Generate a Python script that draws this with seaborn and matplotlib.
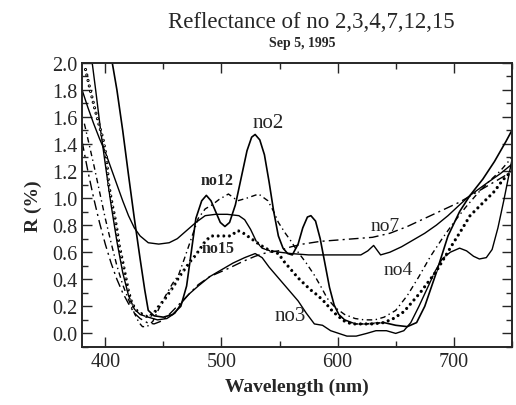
"""
Reflectance curves of samples no 2,3,4,7,12,15 (Sep 5, 1995).
Writes out.png
"""

import matplotlib
matplotlib.use("Agg")
import matplotlib.pyplot as plt
import seaborn as sns
from matplotlib.ticker import MultipleLocator

# values (wavelength nm, reflectance %)
no2_wl = [405, 410, 415, 420, 425, 430, 434, 437, 442, 450, 458, 465, 470, 474,
          478, 483, 487, 491, 495, 499, 503, 507, 512, 517, 522, 526, 529, 533,
          537, 541, 545, 549, 553, 557, 561, 566, 570, 574, 577, 581, 585, 589,
          593, 597, 601, 606, 615, 625, 640, 650, 660, 668, 675, 685, 695, 705,
          714, 725, 735, 745, 750]
no2_r = [2.05, 1.8, 1.5, 1.17, 0.85, 0.55, 0.32, 0.17, 0.13, 0.12, 0.14, 0.2,
         0.35, 0.6, 0.85, 0.98, 1.02, 0.98, 0.9, 0.82, 0.79, 0.82, 0.95, 1.15,
         1.35, 1.45, 1.47, 1.43, 1.32, 1.12, 0.9, 0.72, 0.63, 0.59, 0.58, 0.66,
         0.78, 0.86, 0.87, 0.83, 0.7, 0.52, 0.34, 0.21, 0.14, 0.1, 0.07, 0.07,
         0.08, 0.06, 0.05, 0.08, 0.2, 0.45, 0.72, 0.9, 1.02, 1.14, 1.27, 1.42, 1.5]

no3_wl = [388, 392, 396, 400, 405, 410, 415, 420, 425, 430, 437, 445, 453, 460,
          466, 472, 480, 490, 500, 510, 520, 529, 535, 541, 549, 557, 566, 573,
          580, 587, 594, 601, 608, 616, 625, 633, 642, 650, 657, 663, 670, 677,
          684, 690, 697, 705, 711, 717, 722, 728, 733, 738, 743, 750]
no3_r = [2.05, 1.78, 1.5, 1.25, 0.95, 0.68, 0.45, 0.28, 0.18, 0.14, 0.12, 0.1,
         0.11, 0.15, 0.23, 0.29, 0.35, 0.42, 0.47, 0.52, 0.56, 0.59, 0.56, 0.49,
         0.41, 0.33, 0.24, 0.15, 0.07, 0.06, 0.02, 0.0, -0.02, -0.02, 0.0, 0.02,
         0.02, 0.0, 0.02, 0.08, 0.2, 0.33, 0.46, 0.55, 0.6, 0.63, 0.61, 0.57,
         0.55, 0.56, 0.62, 0.78, 0.98, 1.28]

no4_wl = [380, 385, 390, 395, 400, 405, 410, 415, 420, 425, 430, 437, 446, 455,
          462, 470, 478, 486, 495, 505, 515, 520, 525, 530, 535, 542, 550, 560,
          575, 590, 605, 620, 626, 631, 637, 645, 655, 665, 675, 685, 695, 705,
          714, 722, 730, 740, 750]
no4_r = [1.8, 1.67, 1.55, 1.44, 1.34, 1.22, 1.1, 0.98, 0.87, 0.78, 0.72, 0.67,
         0.66, 0.67, 0.7, 0.76, 0.82, 0.87, 0.88, 0.88, 0.87, 0.84, 0.77, 0.68,
         0.63, 0.61, 0.6, 0.59, 0.58, 0.58, 0.58, 0.58, 0.61, 0.65, 0.58, 0.6,
         0.64, 0.69, 0.74, 0.8, 0.87, 0.95, 1.02, 1.07, 1.12, 1.18, 1.25]

no7_wl = [380, 385, 390, 395, 400, 405, 410, 415, 420, 425, 430, 436, 442, 448,
          455, 463, 472, 480, 490, 506, 518, 529, 540, 549, 560, 570, 585, 600,
          615, 630, 645, 660, 675, 690, 705, 715, 725, 735, 745, 750]
no7_r = [1.42, 1.2, 1.0, 0.82, 0.66, 0.52, 0.4, 0.3, 0.22, 0.15, 0.11, 0.08,
         0.07, 0.09, 0.14, 0.21, 0.29, 0.36, 0.42, 0.48, 0.53, 0.57, 0.6, 0.61,
         0.64, 0.66, 0.68, 0.69, 0.7, 0.71, 0.74, 0.79, 0.85, 0.91, 0.97, 1.02,
         1.07, 1.12, 1.17, 1.2]

no12_wl = [382, 386, 390, 395, 400, 405, 410, 415, 420, 425, 429, 432, 436, 441,
           446, 452, 458, 463, 468, 474, 480, 486, 492, 498, 506, 514, 522, 532,
           540, 545, 549, 555, 560, 566, 573, 580, 586, 591, 598, 606, 615, 623,
           632, 640, 650, 660, 670, 680, 690, 700, 710, 720, 730, 740, 750]
no12_r = [1.55, 1.4, 1.25, 1.05, 0.85, 0.67, 0.5, 0.36, 0.25, 0.15, 0.08, 0.05,
          0.05, 0.09, 0.18, 0.28, 0.37, 0.43, 0.55, 0.7, 0.85, 0.92, 0.95, 0.99,
          1.03, 0.98, 1.0, 1.03, 0.98, 0.9, 0.82, 0.74, 0.68, 0.6, 0.52, 0.43,
          0.34, 0.26, 0.19, 0.14, 0.11, 0.1, 0.1, 0.12, 0.17, 0.28, 0.42, 0.57,
          0.7, 0.82, 0.93, 1.03, 1.12, 1.2, 1.3]

no15_wl = [383, 387, 391, 395, 398, 401, 403, 406, 408, 410, 412, 415, 418, 420,
           423, 427, 432, 437, 442, 446, 451, 455, 459, 463, 468, 473, 478, 482,
           486, 491, 497, 503, 508, 511, 514, 519, 524, 529, 534, 540, 545, 549,
           554, 560, 566, 572, 577, 583, 589, 595, 600, 606, 612, 620, 630, 640,
           648, 657, 664, 671, 678, 685, 692, 699, 707, 714, 721, 728, 735, 741,
           745, 750]
no15_r = [1.95, 1.8, 1.66, 1.53, 1.44, 1.3, 1.1, 0.95, 0.87, 0.77, 0.65, 0.53,
          0.4, 0.31, 0.22, 0.17, 0.14, 0.12, 0.15, 0.2, 0.25, 0.3, 0.35, 0.41,
          0.47, 0.53, 0.58, 0.63, 0.68, 0.72, 0.72, 0.72, 0.72, 0.74, 0.76, 0.74,
          0.71, 0.68, 0.65, 0.62, 0.6, 0.59, 0.53, 0.47, 0.41, 0.36, 0.32, 0.28,
          0.23, 0.17, 0.13, 0.09, 0.07, 0.07, 0.07, 0.08, 0.11, 0.16, 0.23, 0.3,
          0.38, 0.46, 0.56, 0.66, 0.77, 0.87, 0.93, 0.99, 1.05, 1.12, 1.16, 1.2]

labels = ["no2", "no12", "no15", "no7", "no4", "no3"]
label_wl = [540, 496, 497, 641, 652, 559]
label_r = [1.56, 1.13, 0.63, 0.8, 0.47, 0.13]
label_size = [15, 11.5, 11.5, 14, 14, 15]

SERIF = ["Liberation Serif", "DejaVu Serif"]


def main():
    sns.set_style("ticks")
    plt.rcParams["font.family"] = SERIF

    fig = plt.figure(figsize=(5.16, 4.06), dpi=100)
    ax = fig.add_axes([0.159, 0.143, 0.833, 0.700])

    kw = dict(ax=ax, color="black", sort=False, estimator=None, legend=False)
    sns.lineplot(x=no4_wl, y=no4_r, linewidth=1.0, **kw)
    sns.lineplot(x=no3_wl, y=no3_r, linewidth=1.0, **kw)
    sns.lineplot(x=no2_wl, y=no2_r, linewidth=1.2, **kw)
    sns.lineplot(x=no7_wl, y=no7_r, linewidth=1.0,
                 linestyle=(0, (7, 3, 1.5, 3)), **kw)
    sns.lineplot(x=no12_wl, y=no12_r, linewidth=1.0,
                 linestyle=(0, (4, 2.5, 1, 2.5)), **kw)
    # beaded line: small black round dots with white centres
    sns.lineplot(x=no15_wl, y=no15_r, linewidth=2.3,
                 linestyle=(0, (0.01, 1.75)), dash_capstyle="round", **kw)
    kw["color"] = "white"
    sns.lineplot(x=no15_wl, y=no15_r, linewidth=0.9,
                 linestyle=(0, (0.01, 4.47)), dash_capstyle="round", **kw)

    for name, lx, ly, fs in zip(labels, label_wl, label_r, label_size):
        ax.text(lx, ly, name, fontsize=fs, ha="center", va="center",
                fontweight="bold" if fs < 12 else "normal")

    ax.set_xlim(380, 750)
    ax.set_ylim(-0.1, 2.0)
    ax.xaxis.set_major_locator(MultipleLocator(100))
    ax.xaxis.set_minor_locator(MultipleLocator(50))
    ax.yaxis.set_minor_locator(MultipleLocator(0.1))
    ax.set_yticks([round(0.2 * i, 1) for i in range(11)])
    ax.set_yticklabels([f"{0.2 * i:.1f}" for i in range(11)])
    ax.tick_params(which="both", direction="in", top=True, right=True,
                   labelsize=14.5, width=1.0)
    ax.tick_params(which="major", length=7)
    ax.tick_params(which="minor", length=4)
    for s in ax.spines.values():
        s.set_linewidth(1.4)

    ax.set_xlabel("Wavelength (nm)", fontsize=14, fontweight="bold", labelpad=5)
    ax.set_ylabel("R (%)", fontsize=14, fontweight="bold", labelpad=7)

    fig.text(0.604, 0.945, "Reflectance of no 2,3,4,7,12,15", fontsize=16.5,
             ha="center", va="center")
    fig.text(0.585, 0.893, "Sep 5, 1995", fontsize=10, fontweight="bold",
             ha="center", va="center")

    fig.savefig("out.png", dpi=100)
    plt.close(fig)


if __name__ == "__main__":
    main()
